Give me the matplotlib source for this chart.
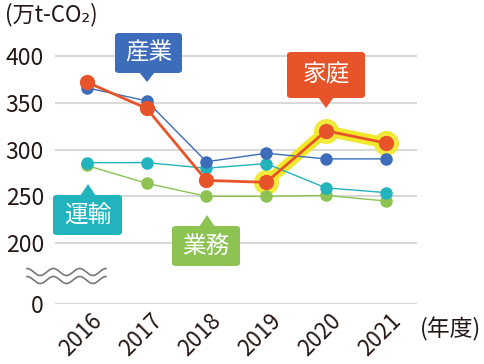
import numpy as np
import matplotlib
matplotlib.use("Agg")
import matplotlib.pyplot as plt
from matplotlib.patches import Polygon, FancyBboxPatch
import matplotlib.transforms as mtransforms

plt.rcParams['font.family'] = ['Noto Sans CJK JP', 'DejaVu Sans']

years = [2016, 2017, 2018, 2019, 2020, 2021]
sangyo = [366, 352, 287, 296, 290, 290]     # 産業
katei = [372, 344, 267, 265, 320, 307]      # 家庭
unyu = [286, 286, 280, 285, 259, 254]       # 運輸
gyomu = [283, 264, 250, 250, 251, 245]      # 業務
yticks = [0, 200, 250, 300, 350, 400]
highlight_years = [2019, 2020, 2021]

C_BLUE = '#3d6cbb'
C_RED = '#e8542a'
C_TEAL = '#22b4bc'
C_GREEN = '#8cc352'
C_YEL = '#f0e82a'
C_TXT = '#231815'

def fwd(v):
    v = np.asarray(v, dtype=float)
    return np.where(v >= 200, v, 135 + v * 65 / 200)

def inv(y):
    y = np.asarray(y, dtype=float)
    return np.where(y >= 200, y, (y - 135) * 200 / 65)

fig = plt.figure(figsize=(4.84, 3.64), dpi=100)
ax = fig.add_axes([55/484, 1 - 304/364, (417-55)/484, (304-40)/364])
ax.set_yscale('function', functions=(fwd, inv))
ax.set_ylim(0, 417)
ax.set_xlim(2015.47, 2021.52)

for t in yticks:
    ax.axhline(t, color='#d9d9d9', lw=1.5, zorder=0)

for s in ax.spines.values():
    s.set_visible(False)
ax.tick_params(length=0)
ax.set_yticks(yticks)
ax.set_yticklabels([str(t) for t in yticks], fontsize=16.5, color=C_TXT)
ax.tick_params(axis='y', pad=8)
ax.tick_params(axis='x', pad=0)
ax.set_xticks(years)
ax.set_xticklabels([str(y) for y in years], fontsize=16, color=C_TXT,
                   rotation=45, ha='center', va='center')
off = mtransforms.ScaledTranslation(-6/100, -31/100, fig.dpi_scale_trans)
for lab in ax.get_xticklabels():
    lab.set_transform(lab.get_transform() + off)

# highlight for katei 2019-2021
hi = [katei[years.index(y)] for y in highlight_years]
ax.plot(highlight_years, hi, color=C_YEL, lw=8, solid_capstyle='round', zorder=3, clip_on=False)
ax.plot(highlight_years, hi, 'o', color=C_YEL, ms=17, zorder=3, clip_on=False, alpha=0.9)

ax.plot(years, gyomu, '-o', color=C_GREEN, lw=1, ms=8, zorder=4, clip_on=False)
ax.plot(years, unyu, '-o', color=C_TEAL, lw=1, ms=8, zorder=5, clip_on=False)
ax.plot(years, sangyo, '-o', color=C_BLUE, lw=1, ms=8, zorder=6, clip_on=False)
ax.plot(years, katei, '-o', color=C_RED, lw=2, ms=10, zorder=7, clip_on=False)

# callout boxes (pixel coords -> figure)
def callout(text, color, x0, y0, x1, y1, tipx, tipy):
    W, H = 484, 364
    box = FancyBboxPatch((x0/W, 1 - y1/H), (x1-x0)/W, (y1-y0)/H,
                         boxstyle='round,pad=0,rounding_size=0.008',
                         transform=fig.transFigure, facecolor=color, edgecolor='none', zorder=10)
    fig.add_artist(box)
    if tipy > y1:
        pts = [(tipx-8, y1-1), (tipx+8, y1-1), (tipx, tipy)]
    else:
        pts = [(tipx-8, y0+1), (tipx+8, y0+1), (tipx, tipy)]
    tri = Polygon([(px/W, 1-py/H) for px, py in pts], closed=True,
                  transform=fig.transFigure, facecolor=color, edgecolor='none', zorder=10)
    fig.add_artist(tri)
    fig.text((x0+x1)/2/W, 1-(y0+y1)/2/H, text, color='white', fontsize=17,
             ha='center', va='center', zorder=11)

callout('産業', C_BLUE, 115, 33, 182, 73, 147, 82)
callout('家庭', C_RED, 287, 52, 365, 98, 326, 108)
callout('運輸', C_TEAL, 53, 195, 122, 235, 88, 184)
callout('業務', C_GREEN, 172, 226, 240, 266, 207, 215)

# wavy break symbol
xs = np.linspace(27, 106, 200)
for yc in (272, 280):
    ys = yc - 3.5 * np.sin((xs - 27) / 79 * 2 * np.pi * 3 + np.pi/2)
    fig.add_artist(plt.Line2D(xs/484, 1 - ys/364, color='#777777', lw=1.2,
                              transform=fig.transFigure))

fig.text(5/484, 1-15/364, '(万t-CO₂)', fontsize=16, color=C_TXT, ha='left', va='center')
fig.text(481/484, 1-329/364, '(年度)', fontsize=16.5, color=C_TXT, ha='right', va='center')

fig.savefig('out.png', dpi=100)
